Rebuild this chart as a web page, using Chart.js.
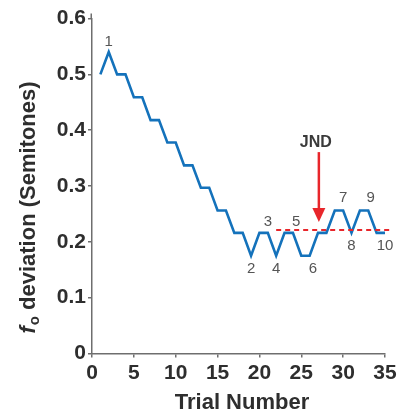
<!DOCTYPE html>
<html>
<head>
<meta charset="utf-8">
<script src="https://cdn.jsdelivr.net/npm/chart.js@4"></script>
<style>
  html, body { margin: 0; padding: 0; background: #fff; }
  #wrap { width: 400px; height: 413px; }
</style>
</head>
<body>
<div id="wrap"><canvas id="c" width="400" height="413"></canvas></div>
<script>
// ---- data ----
const trials = [1,2,3,4,5,6,7,8,9,10,11,12,13,14,15,16,17,18,19,20,21,22,23,24,25,26,27,28,29,30,31,32,33,34,35];
const deviation = [0.50,0.54,0.50,0.50,0.459,0.459,0.418,0.418,0.378,0.378,0.337,0.337,0.297,0.297,0.256,0.256,0.216,0.216,0.175,0.216,0.216,0.175,0.216,0.216,0.175,0.175,0.216,0.216,0.256,0.256,0.216,0.256,0.256,0.216,0.216];
const reversalNumbers = ['1','2','3','4','5','6','7','8','9','10'];
const reversalTrials = [2,19,21,22,24.4,26.4,30,31,33.3,35];
const reversalValues = [0.54,0.175,0.216,0.175,0.216,0.175,0.256,0.216,0.256,0.216];
const reversalAbove = [true,false,true,false,true,false,true,false,true,false];
const jndValue = 0.221;
const jndStartTrial = 22;
const jndEndTrial = 35.7;
const jndArrowTrial = 27.1;
const yTicks = [0,0.1,0.2,0.3,0.4,0.5,0.6];
const xTicks = [0,5,10,15,20,25,30,35];
const xTitle = 'Trial Number';
const yTitleMain = ' deviation (Semitones)';

const FONT = '"Liberation Sans", Arial, Helvetica, sans-serif';
const AXIS_COLOR = '#6e6e6e';
const TEXT_COLOR = '#2e2e2e';
const LINE_COLOR = '#1472bb';

const annotations = {
  id: 'annotations',
  afterDatasetsDraw(chart) {
    const ctx = chart.ctx;
    const xs = chart.scales.x, ys = chart.scales.y;
    const area = chart.chartArea;
    ctx.save();
    // y axis line small extension above top tick
    ctx.strokeStyle = AXIS_COLOR;
    ctx.lineWidth = 1.5;
    ctx.beginPath();
    ctx.moveTo(area.left - 0.75, area.top);
    ctx.lineTo(area.left - 0.75, area.top - 5);
    ctx.stroke();
    // dashed JND line
    ctx.strokeStyle = '#e8262b';
    ctx.lineWidth = 2;
    ctx.setLineDash([5, 4]);
    ctx.beginPath();
    ctx.moveTo(xs.getPixelForValue(jndStartTrial), ys.getPixelForValue(jndValue));
    ctx.lineTo(xs.getPixelForValue(jndEndTrial), ys.getPixelForValue(jndValue));
    ctx.stroke();
    ctx.setLineDash([]);
    // arrow
    const ax = xs.getPixelForValue(jndArrowTrial);
    const tipY = ys.getPixelForValue(jndValue) - 8;
    const tailY = tipY - 70;
    ctx.strokeStyle = '#e8262b';
    ctx.fillStyle = '#e8262b';
    ctx.lineWidth = 2.5;
    ctx.beginPath();
    ctx.moveTo(ax, tailY);
    ctx.lineTo(ax, tipY - 10);
    ctx.stroke();
    ctx.beginPath();
    ctx.moveTo(ax - 6.5, tipY - 14);
    ctx.lineTo(ax + 6.5, tipY - 14);
    ctx.lineTo(ax, tipY);
    ctx.closePath();
    ctx.fill();
    // JND text
    ctx.fillStyle = '#3a3a3a';
    ctx.font = 'bold 16px ' + FONT;
    ctx.textAlign = 'center';
    ctx.textBaseline = 'middle';
    ctx.fillText('JND', ax - 3, tailY - 10);
    // reversal labels
    ctx.fillStyle = '#555555';
    ctx.font = '15px ' + FONT;
    for (let i = 0; i < reversalNumbers.length; i++) {
      const px = xs.getPixelForValue(reversalTrials[i]);
      const py = ys.getPixelForValue(reversalValues[i]);
      let dy = reversalAbove[i] ? -11 : 13;
      if (i === 0) dy = -10;
      if (i === 6 || i === 8) dy = -13;
      ctx.fillText(reversalNumbers[i], px, py + dy);
    }
    // x title
    ctx.fillStyle = TEXT_COLOR;
    ctx.font = 'bold 22px ' + FONT;
    ctx.fillText(xTitle, 242, 403);
    // y title (rotated) with italic f and subscript o
    ctx.translate(27, 207.5);
    ctx.rotate(-Math.PI / 2);
    ctx.textAlign = 'left';
    ctx.textBaseline = 'alphabetic';
    const fMain = 'bold 22px ' + FONT;
    const fItal = 'italic bold 22px ' + FONT;
    const fSub = 'bold 15px ' + FONT;
    ctx.font = fItal; const wF = ctx.measureText('f').width;
    ctx.font = fSub; const wO = ctx.measureText('o').width;
    ctx.font = fMain; const wM = ctx.measureText(yTitleMain).width;
    const total = wF + 1 + wO + wM;
    let x0 = -total / 2;
    const base = 8;
    ctx.font = fItal; ctx.fillText('f', x0, base); x0 += wF + 1;
    ctx.font = fSub; ctx.fillText('o', x0, base + 4); x0 += wO;
    ctx.font = fMain; ctx.fillText(yTitleMain, x0, base);
    ctx.restore();
  }
};

new Chart(document.getElementById('c'), {
  type: 'line',
  data: {
    datasets: [{
      data: trials.map((t, i) => ({ x: t, y: deviation[i] })),
      borderColor: LINE_COLOR,
      borderWidth: 2.6,
      pointRadius: 0,
      tension: 0,
      fill: false
    }]
  },
  options: {
    responsive: false,
    animation: false,
    events: [],
    layout: { padding: { top: 18.5, right: 15, left: 0, bottom: 0 } },
    plugins: { legend: { display: false }, tooltip: { enabled: false } },
    scales: {
      x: {
        type: 'linear', min: 0, max: 35,
        afterBuildTicks: s => { s.ticks = xTicks.map(v => ({ value: v })); },
        afterFit: s => { s.height = 59.5; },
        grid: { drawOnChartArea: false, drawTicks: true, tickLength: 4, color: AXIS_COLOR, lineWidth: 1.5 },
        border: { color: AXIS_COLOR, width: 1.5 },
        ticks: { color: TEXT_COLOR, font: { family: FONT, size: 21, weight: 'bold' }, padding: 3, maxRotation: 0, autoSkip: false }
      },
      y: {
        min: 0, max: 0.6,
        afterBuildTicks: s => { s.ticks = yTicks.map(v => ({ value: v })); },
        afterFit: s => { s.width = 92; },
        grid: { drawOnChartArea: false, drawTicks: true, tickLength: 4, color: AXIS_COLOR, lineWidth: 1.5 },
        border: { color: AXIS_COLOR, width: 1.5 },
        ticks: { color: TEXT_COLOR, font: { family: FONT, size: 21, weight: 'bold' }, padding: 2,
          callback: v => String(Math.round(v * 10) / 10) }
      }
    }
  },
  plugins: [annotations]
});
</script>
</body>
</html>
